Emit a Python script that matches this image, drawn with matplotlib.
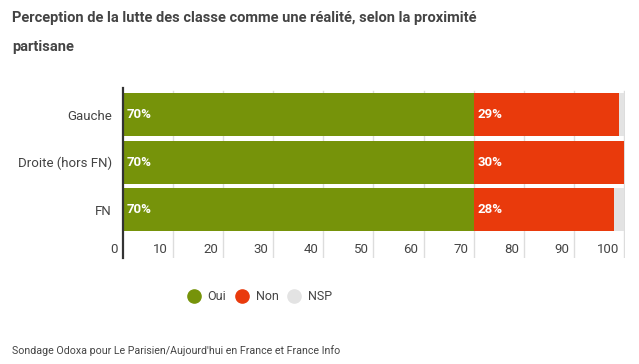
import matplotlib
matplotlib.use("Agg")
import matplotlib.pyplot as plt
from matplotlib.lines import Line2D
import matplotlib.transforms as mtransforms

categories = ["Gauche", "Droite (hors FN)", "FN"]
oui = [70, 70, 70]
non = [29, 30, 28]
nsp = [1, 0, 2]
series_names = ["Oui", "Non", "NSP"]
colors = ["#76930A", "#E93A0C", "#E3E3E3"]
xticks = [0, 10, 20, 30, 40, 50, 60, 70, 80, 90, 100]

plt.rcParams['font.family'] = ['Roboto', 'DejaVu Sans']

W, H = 639, 364
fig = plt.figure(figsize=(W / 100, H / 100), dpi=100)
fig.patch.set_facecolor("white")

left, right, top, bottom = 123, 625, 88, 258
ax = fig.add_axes([left / W, 1 - bottom / H, (right - left) / W, (bottom - top) / H])

y = list(range(len(categories)))
lefts = [0] * len(categories)
for name, vals, c in zip(series_names, [oui, non, nsp], colors):
    ax.barh(y, vals, left=lefts, height=0.9, color=c, zorder=2)
    for yi, (l, v) in enumerate(zip(lefts, vals)):
        if name != "NSP" and v > 0:
            ax.text(l + 0.7, yi, f"{v}%", color="white", fontsize=9.5,
                    fontweight="bold", va="center", ha="left", zorder=3)
    lefts = [a + b for a, b in zip(lefts, vals)]

ax.set_xlim(0, 100.2)
ax.set_ylim(3.01, -0.56)
ax.set_yticks(y)
ax.set_yticklabels(categories, fontsize=9.5, color="#444444")
ax.tick_params(axis="y", length=0, pad=8)
ax.set_xticks([])
for xv in xticks[1:]:
    ax.axvline(xv, ymax=0.98, color="#DDDDDD", lw=1, zorder=1)

trans = mtransforms.blended_transform_factory(ax.transData, ax.transAxes)
offset = mtransforms.ScaledTranslation(-5 / 100, 0, fig.dpi_scale_trans)
for xv in xticks:
    ax.text(xv, 0.05, str(xv), transform=trans + offset, ha="right", va="center",
            fontsize=9.5, color="#444444")

for s in ["top", "right", "bottom"]:
    ax.spines[s].set_visible(False)
ax.spines["left"].set_color("#333333")
ax.spines["left"].set_linewidth(1.6)
ax.set_facecolor("white")

fig.text(12 / W, 1 - 18 / H, "Perception de la lutte des classe comme une réalité, selon la proximité",
         fontsize=10.5, fontweight="bold", color="#444444", va="center", ha="left")
fig.text(12 / W, 1 - 47 / H, "partisane",
         fontsize=10.5, fontweight="bold", color="#444444", va="center", ha="left")

handles = [Line2D([], [], marker="o", linestyle="none", markersize=9.5,
                  markerfacecolor=c, markeredgecolor=c) for c in colors]
fig.legend(handles, series_names, loc="center", bbox_to_anchor=(260 / W, 1 - 297 / H),
           ncol=3, frameon=False, fontsize=9, handlelength=1.0, handletextpad=0.6,
           columnspacing=0.75, labelcolor="#444444")

fig.text(12 / W, 1 - 351 / H, "Sondage Odoxa pour Le Parisien/Aujourd'hui en France et France Info",
         fontsize=7.7, color="#444444", va="center", ha="left")

fig.savefig("out.png", dpi=100)
